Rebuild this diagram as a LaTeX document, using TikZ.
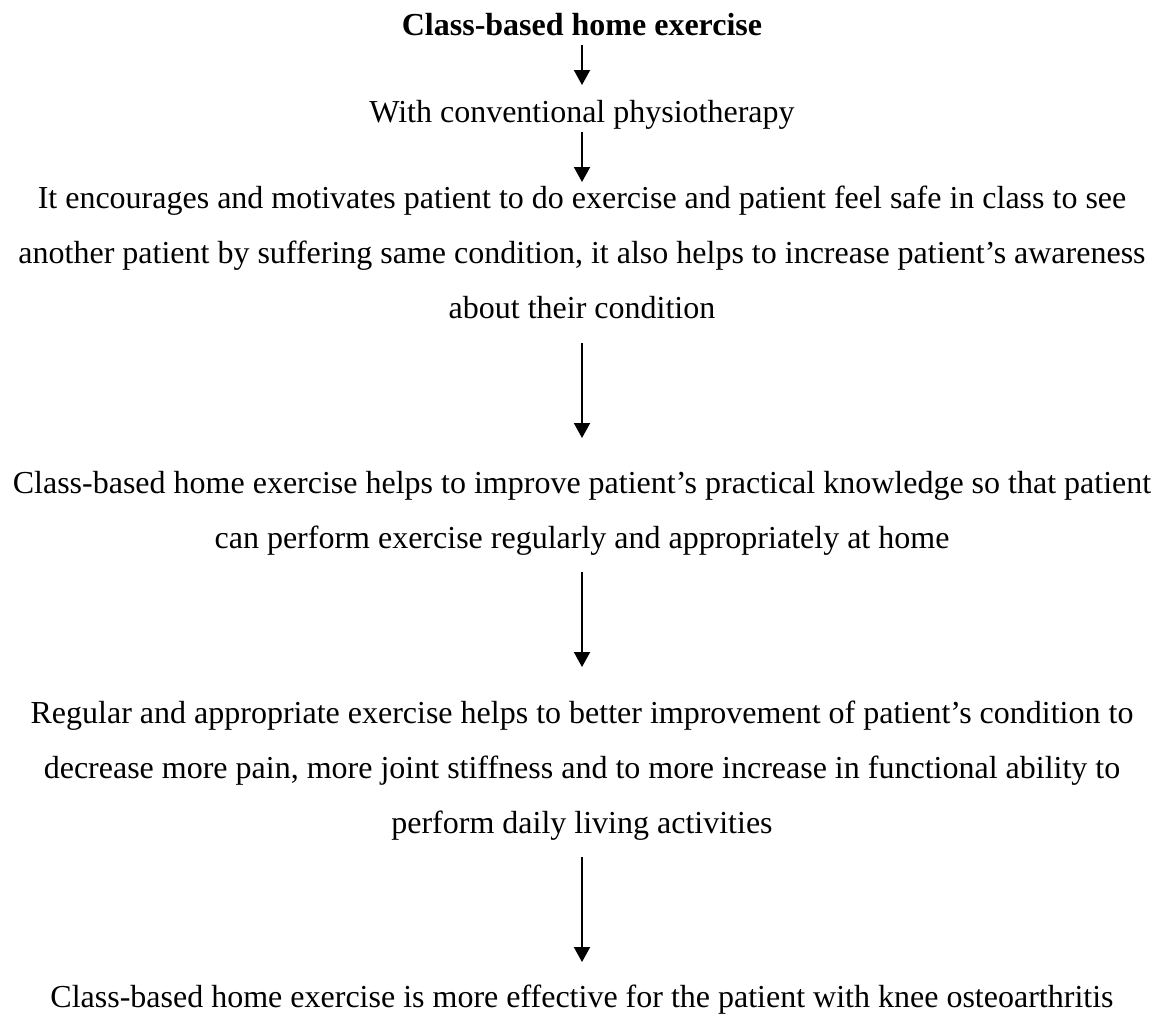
\documentclass[tikz,border=0pt]{standalone}
\usepackage{fontspec}
\setmainfont{Liberation Serif}
\usepackage{tikz}
\usetikzlibrary{arrows.meta}

\tikzset{
  txt/.style={inner sep=0pt, anchor=base, align=center,
    font=\fontsize{16}{27.5}\selectfont},
  flow/.style={line width=1pt, -{Triangle[width=8pt,length=7.5pt]}}
}

\begin{document}
\begin{tikzpicture}[x=0.5pt,y=-0.5pt]
\useasboundingbox (0,0) rectangle (1161,1013);
% Steps (base = baseline of last line)
\node[txt,font=\fontsize{16}{27.5}\selectfont\bfseries] (title) at (582,35) {Class-based home exercise};
\node[txt] (conv) at (582,122) {With conventional physiotherapy};
\node[txt] (motiv) at (582,318) {It encourages and motivates patient to do exercise and patient feel safe in class to see\\
  another patient by suffering same condition, it also helps to increase patient’s awareness\\
  about their condition};
\node[txt] (know) at (582,548) {Class-based home exercise helps to improve patient’s practical knowledge so that patient\\
  can perform exercise regularly and appropriately at home};
\node[txt] (improve) at (582,833) {Regular and appropriate exercise helps to better improvement of patient’s condition to\\
  decrease more pain, more joint stiffness and to more increase in functional ability to\\
  perform daily living activities};
\node[txt] (result) at (582,1007) {Class-based home exercise is more effective for the patient with knee osteoarthritis};
% Arrows
\draw[flow] (title.south |- 0,45) -- (conv.north |- 0,85);
\draw[flow] (conv.south |- 0,132) -- (motiv.north |- 0,182);
\draw[flow] (motiv.south |- 0,343) -- (know.north |- 0,438);
\draw[flow] (know.south |- 0,572) -- (improve.north |- 0,667);
\draw[flow] (improve.south |- 0,857) -- (result.north |- 0,962);
\end{tikzpicture}
\end{document}
